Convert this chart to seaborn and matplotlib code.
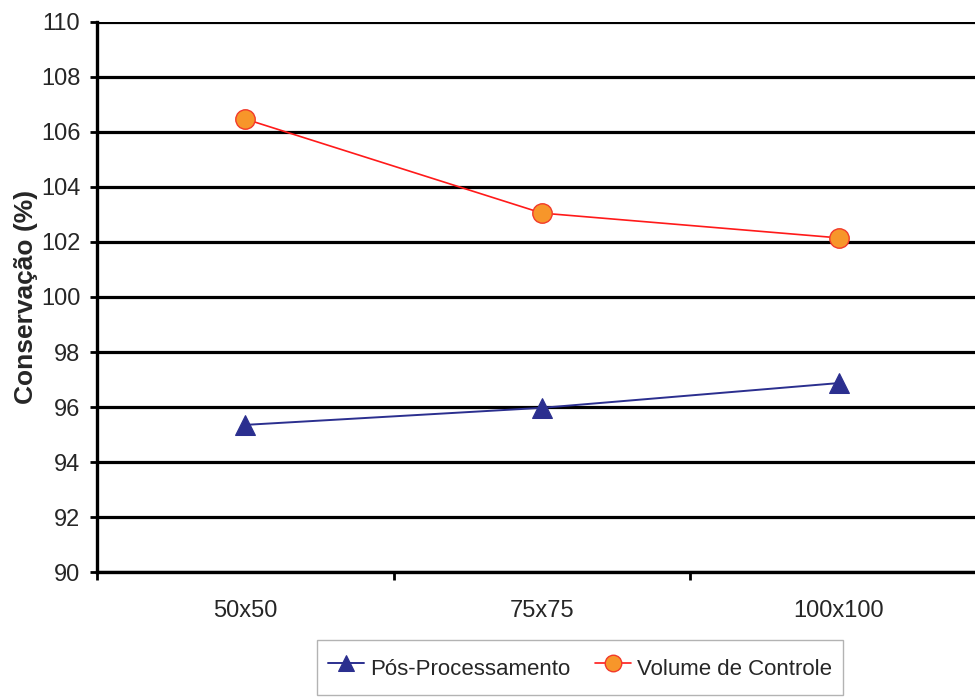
import matplotlib
matplotlib.use("Agg")
import matplotlib.pyplot as plt
import seaborn as sns
import pandas as pd

# Mesh resolutions and conservation results (%)
malhas = ["50x50", "75x75", "100x100"]
pos_processamento = [95.35, 95.97, 96.87]
volume_controle = [106.47, 103.05, 102.15]
yticks = [90, 92, 94, 96, 98, 100, 102, 104, 106, 108, 110]

sns.set_theme(style="white")
plt.rcParams["font.family"] = ["Liberation Sans", "DejaVu Sans"]

pos = [i + 0.5 for i in range(len(malhas))]
df = pd.DataFrame({
    "pos": pos * 2,
    "valor": pos_processamento + volume_controle,
    "serie": ["Pós-Processamento"] * 3 + ["Volume de Controle"] * 3,
})

fig = plt.figure(figsize=(9.75, 6.98), dpi=100)
ax = fig.add_axes([0.0995, 0.1805, 0.9128, 0.788])

for y in yticks:
    ax.axhline(y, color="black", lw=2.3, zorder=1)

sns.lineplot(data=df[df.serie == "Pós-Processamento"], x="pos", y="valor",
             color="#2B2F8F", lw=1.4, marker="^", markersize=14,
             markerfacecolor="#2B2F8F", markeredgecolor="#2B2F8F",
             label="Pós-Processamento", ax=ax, zorder=3)
sns.lineplot(data=df[df.serie == "Volume de Controle"], x="pos", y="valor",
             color="#FF1A1A", lw=1.2, marker="o", markersize=14,
             markerfacecolor="#F7962A", markeredgecolor="#F23A2A",
             markeredgewidth=1.0,
             label="Volume de Controle", ax=ax, zorder=3)

ax.set_xlim(0, 3)
ax.set_ylim(90, 110)
ax.set_yticks(yticks)
ax.set_xticks([0, 1, 2, 3])
ax.set_xticklabels([])
ax.set_xticks(pos, minor=True)
ax.set_xticklabels(malhas, minor=True)
ax.tick_params(axis="x", which="major", direction="out", length=6, width=2,
               color="black", bottom=True)
ax.tick_params(axis="x", which="minor", length=0, pad=20, labelsize=17)
ax.tick_params(axis="y", direction="out", length=5, width=2, color="black",
               left=True, pad=7, labelsize=17)

for s in ["top", "right"]:
    ax.spines[s].set_visible(False)
for s in ["left", "bottom"]:
    ax.spines[s].set_color("black")
    ax.spines[s].set_linewidth(2.4)
    ax.spines[s].set_zorder(4)

ax.set_xlabel("")
ax.set_ylabel("Conservação (%)", fontsize=19, fontweight="bold")
ax.yaxis.set_label_coords(-0.066, 0.5)

ax.get_legend().remove()
handles, labels = ax.get_legend_handles_labels()
leg = fig.legend(handles, labels, loc="upper left",
                 bbox_to_anchor=(317 / 975, 1 - 640 / 698), ncol=2,
                 fontsize=16, frameon=True, fancybox=False, borderpad=0.5,
                 borderaxespad=0, handleheight=1.9,
                 handlelength=1.6, handletextpad=0.3, columnspacing=1.1,
                 markerscale=0.85)
leg.get_frame().set_edgecolor("#A0A0A0")
leg.get_frame().set_linewidth(1.0)

fig.savefig("out.png", dpi=100)
